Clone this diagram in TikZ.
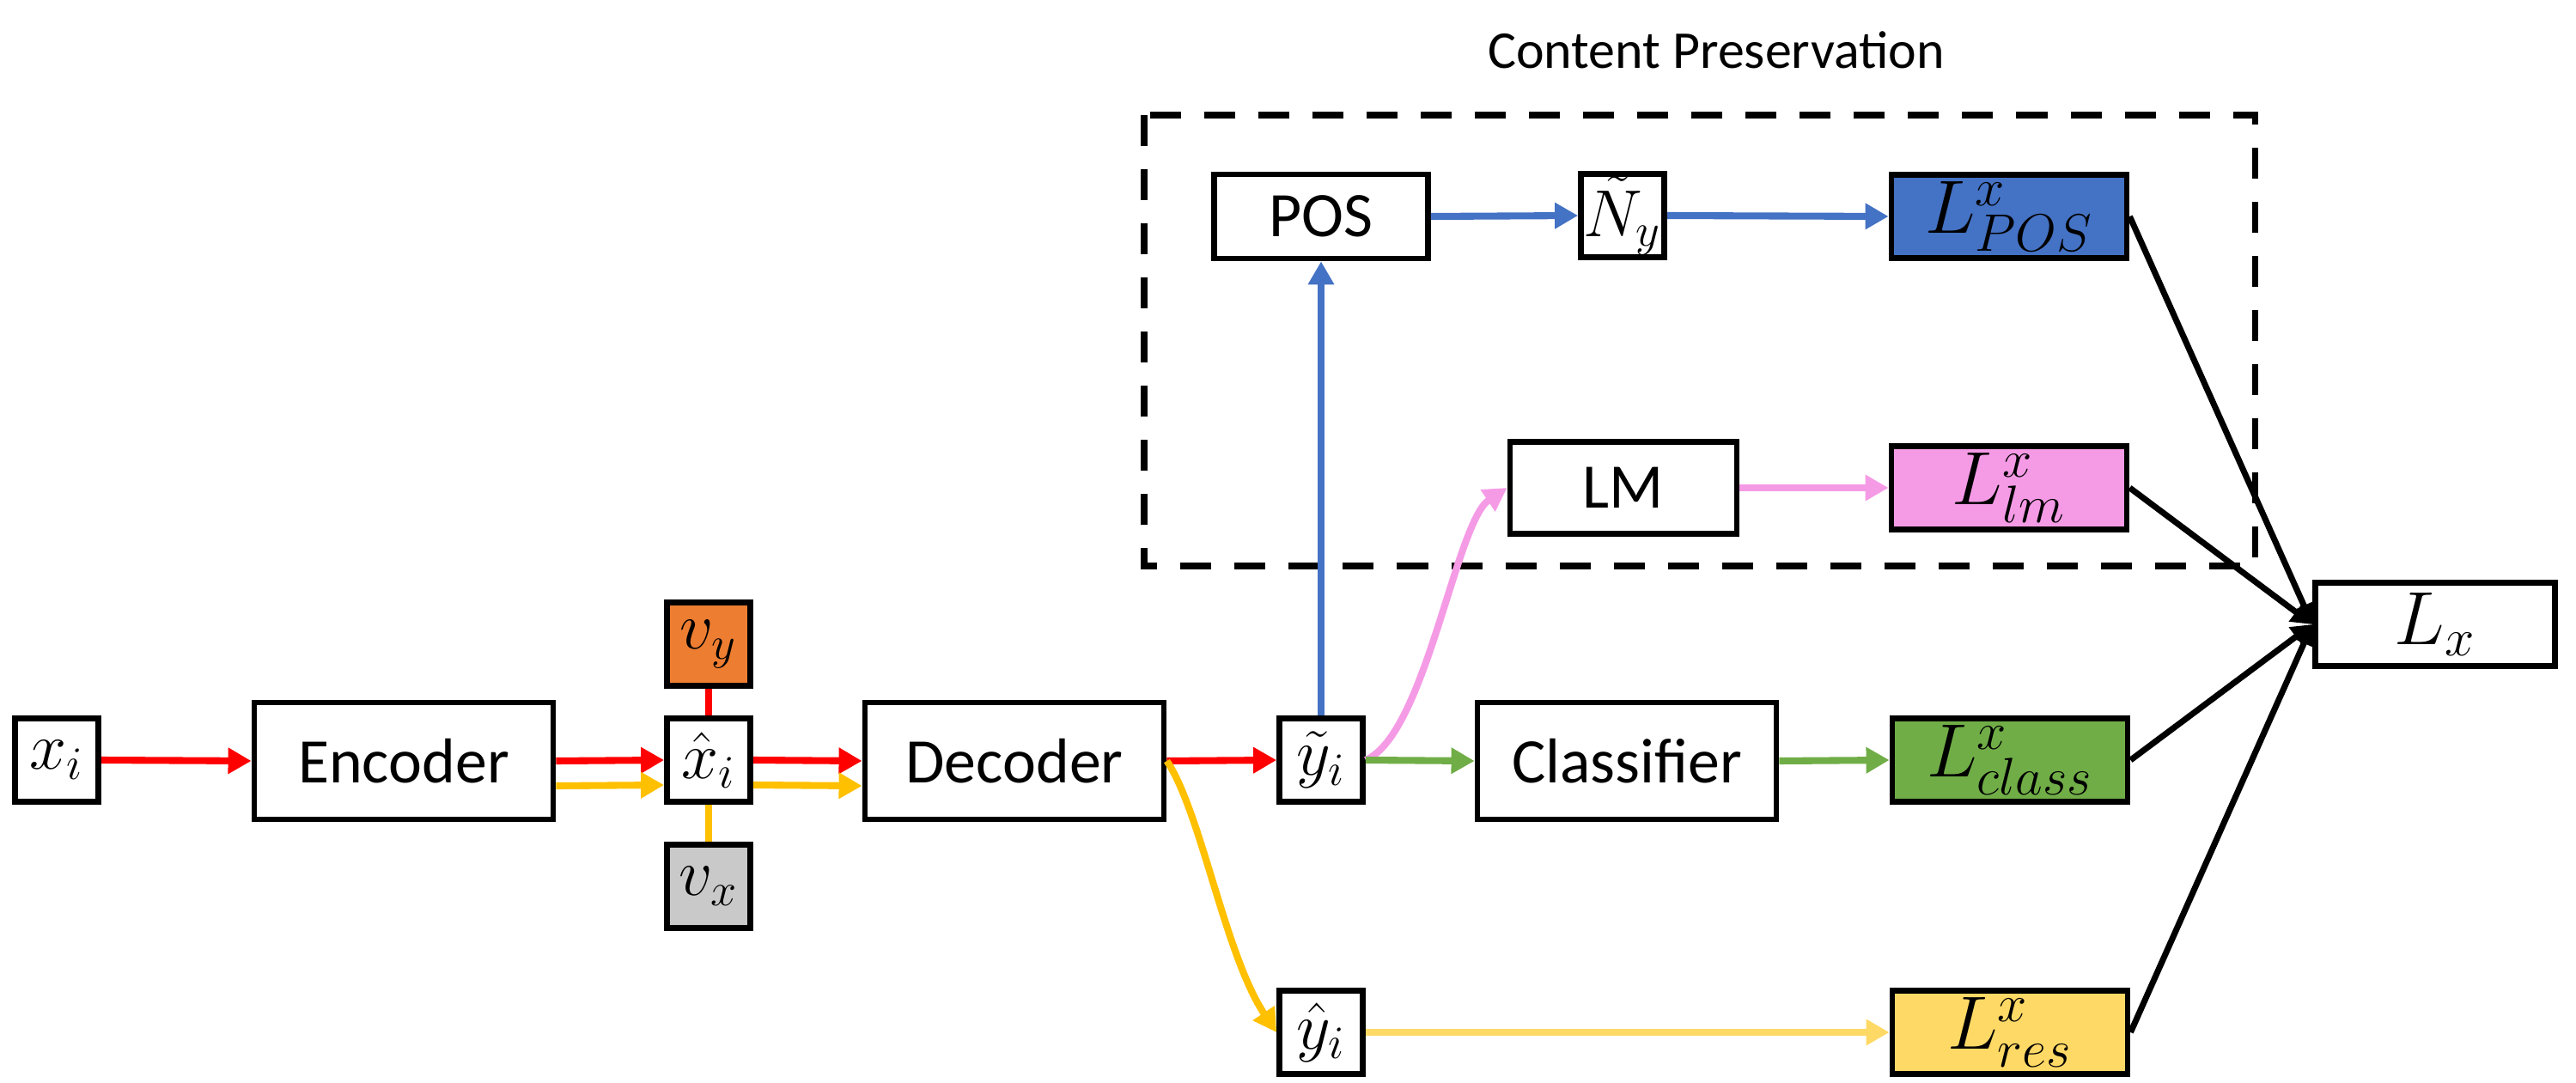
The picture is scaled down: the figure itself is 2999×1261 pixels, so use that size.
\RequirePackage{fix-cm}
\documentclass[tikz,border=0pt]{standalone}
\usepackage{fontspec}
\setmainfont{Carlito}
\usetikzlibrary{arrows.meta}
\definecolor{rd}{RGB}{255,0,0}
\definecolor{amber}{RGB}{255,192,0}
\definecolor{sand}{RGB}{255,217,102}
\definecolor{steel}{RGB}{68,114,196}
\definecolor{rose}{RGB}{245,155,230}
\definecolor{leaf}{RGB}{112,173,71}
\definecolor{rust}{RGB}{237,125,49}
\definecolor{ash}{RGB}{201,201,201}
\begin{document}
\begin{tikzpicture}[x=0.01cm,y=-0.01cm,
    blk/.style={draw,line width=1.9pt,inner sep=0pt,font=\fontsize{21}{25}\selectfont},
    mth/.style={font=\fontsize{25}{29}\selectfont},
    sq/.style={blk,font=\fontsize{22}{26}\selectfont,minimum width=0.97cm,minimum height=0.97cm},
    wide/.style={blk,minimum width=3.48cm,minimum height=1.36cm},
    loss/.style={blk,mth,minimum width=2.74cm,minimum height=0.97cm},
    flow/.style={line width=2.3pt,-{Triangle[length=0.27cm,width=0.29cm]}},
    link/.style={line width=2.3pt},
    sum/.style={line width=2pt,-{Triangle[length=0.24cm,width=0.26cm]}}]
  \useasboundingbox (0,0) rectangle (2999,1261);
  % content preservation group
  \draw[line width=2pt,dash pattern=on 0.36cm off 0.27cm] (1332,134) rectangle (2625,659);
  \node[font=\fontsize{17.6}{21}\selectfont] (title) at (1998,58) {Content Preservation};
  % main chain
  \node[sq] (xi) at (66,885) {$x_i$};
  \node[wide] (enc) at (470,886) {Encoder};
  \node[sq,fill=rust] (vy) at (825,750) {$v_y$};
  \node[sq] (xh) at (825,885) {$\hat{x}_i$};
  \node[sq,fill=ash] (vx) at (825,1032) {$v_x$};
  \node[wide] (dec) at (1181,886) {Decoder};
  \node[sq] (yt) at (1538,885) {$\tilde{y}_i$};
  \node[sq] (yh) at (1538,1202) {$\hat{y}_i$};
  \node[wide] (cls) at (1894,886) {Classifier};
  \node[blk,minimum width=2.49cm,minimum height=0.98cm] (pos) at (1538,252) {POS};
  \node[sq] (ny) at (1889,251) {$\tilde{N}_y$};
  \node[blk,minimum width=2.64cm,minimum height=1.07cm] (lm) at (1890,568) {LM};
  % losses
  \node[loss,fill=steel] (lpos) at (2339,252) {$L^x_{POS}$};
  \node[loss,fill=rose] (llm) at (2339,568) {$L^x_{lm}$};
  \node[loss,fill=leaf] (lcls) at (2340,885) {$L^x_{class}$};
  \node[loss,fill=sand] (lres) at (2340,1202) {$L^x_{res}$};
  \node[blk,mth,minimum width=2.79cm,minimum height=0.97cm] (lx) at (2835,727) {$L_x$};
  % connectors
  \draw[flow,rd] (xi.east) -- (enc.west);
  \draw[flow,rd] (enc.east) -- (xh.west);
  \draw[flow,amber] ([yshift=-0.29cm]enc.east) -- ([yshift=-0.29cm]xh.west);
  \draw[flow,rd] (xh.east) -- (dec.west);
  \draw[flow,amber] ([yshift=-0.29cm]xh.east) -- ([yshift=-0.29cm]dec.west);
  \draw[link,rd] (vy.south) -- (xh.north);
  \draw[link,amber] (xh.south) -- (vx.north);
  \draw[flow,rd] (dec.east) -- (yt.west);
  \draw[flow,amber] (dec.east) .. controls +(40,60) and +(-60,-90) .. (yh.west);
  \draw[flow,steel] (yt.north) -- (pos.south);
  \draw[flow,rose] (yt.east) .. controls +(70,-30) and +(-60,40) .. (lm.west);
  \draw[flow,leaf] (yt.east) -- (cls.west);
  \draw[flow,leaf] (cls.east) -- (lcls.west);
  \draw[flow,steel] (pos.east) -- (ny.west);
  \draw[flow,steel] (ny.east) -- (lpos.west);
  \draw[flow,rose] (lm.east) -- (llm.west);
  \draw[flow,sand] (yh.east) -- (lres.west);
  \foreach \s in {lpos,llm,lcls,lres}
    \draw[sum] (\s.east) -- (lx.west);
\end{tikzpicture}
\end{document}
